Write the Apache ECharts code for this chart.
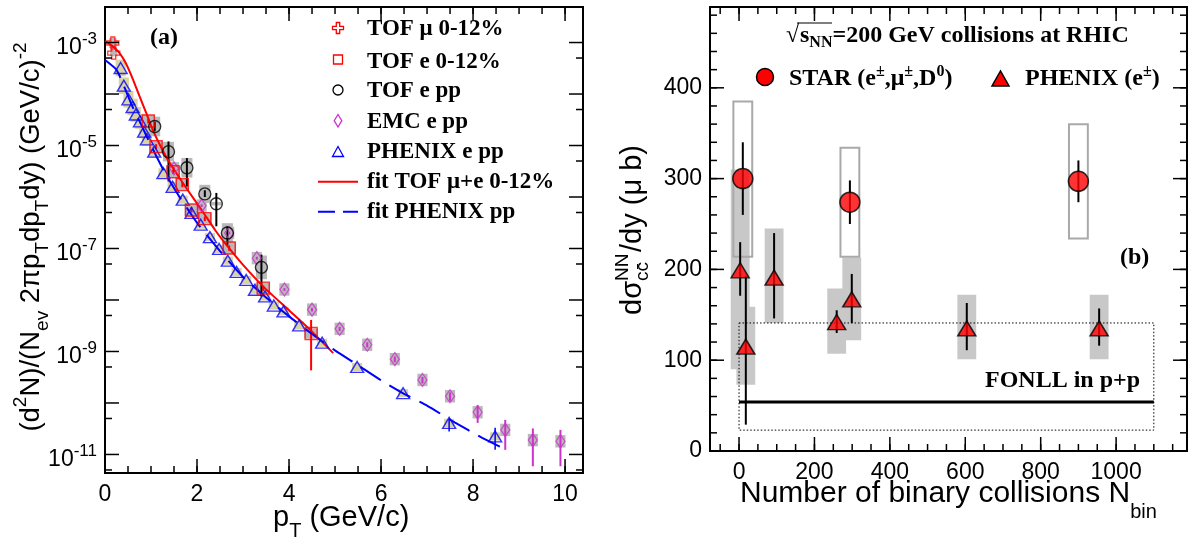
<!DOCTYPE html>
<html>
<head>
<meta charset="utf-8">
<title>Charm yields and cross sections</title>
<script src="https://cdn.jsdelivr.net/npm/echarts@6.0.0/dist/echarts.min.js"></script>
<style>
html,body{margin:0;padding:0;background:#ffffff;}
#chart{width:1198px;height:549px;}
</style>
</head>
<body>
<div id="chart"></div>
<script>
// ===================== Panel (a): yields vs pT (GeV/c) =====================
const tofMuPt  = [0.17, 0.19];
const tofMuY   = [9.8e-4, 6.2e-4];
const tofMuSys = [0.25, 0.15];

const tofEPt    = [0.94, 1.11, 1.48, 1.68, 1.88, 2.17, 2.70, 3.44, 4.48];
const tofEY     = [3.0e-5, 9.5e-6, 3.1e-6, 1.74e-6, 5.6e-7, 3.8e-7, 1.02e-7, 1.7e-8, 2.24e-9];
const tofEErrLo = [2.7e-5, 8.5e-6, 2.8e-6, 1.55e-6, 5.0e-7, 3.4e-7, 9.0e-8, 1.5e-8, 4.3e-10];
const tofEErrHi = [3.3e-5, 1.06e-5, 3.4e-6, 1.95e-6, 6.3e-7, 4.2e-7, 1.15e-7, 1.9e-8, 4.1e-9];
const tofESys   = [0.3, 0.3, 0.3, 0.3, 0.3, 0.3, 0.3, 0.3, 0.25];

const tofPpPt    = [1.08, 1.38, 1.78, 2.17, 2.42, 2.66, 3.40];
const tofPpY     = [2.34e-5, 7.6e-6, 3.7e-6, 1.15e-6, 7.4e-7, 2.0e-7, 4.3e-8];
const tofPpErrLo = [1.9e-5, 2.0e-6, 1.6e-6, 1.0e-6, 2.7e-7, 1.17e-7, 1.17e-8];
const tofPpErrHi = [2.9e-5, 1.2e-5, 5.7e-6, 1.35e-6, 1.2e-6, 2.7e-7, 7.6e-8];
const tofPpSys   = [0.55, 0.55, 0.55, 0.5, 0.08, 0.55, 0.7];

const emcPt    = [1.5, 2.1, 2.7, 3.3, 3.9, 4.5, 5.1, 5.7, 6.3, 6.9, 7.5, 8.1, 8.7, 9.3, 9.9];
const emcY     = [3.6e-6, 6.8e-7, 2.0e-7, 6.5e-8, 1.6e-8, 6.5e-9, 2.75e-9, 1.35e-9, 7.1e-10, 2.8e-10, 1.35e-10, 6.6e-11, 3.0e-11, 1.9e-11, 1.8e-11];
const emcErrLo = [3.4e-6, 6.4e-7, 1.88e-7, 6.1e-8, 1.5e-8, 6.0e-9, 2.5e-9, 1.2e-9, 6.2e-10, 2.4e-10, 1.1e-10, 4.1e-11, 1.23e-11, 5.9e-12, 5.9e-12];
const emcErrHi = [3.8e-6, 7.2e-7, 2.12e-7, 6.9e-8, 1.7e-8, 7.0e-9, 3.0e-9, 1.5e-9, 8.0e-10, 3.2e-10, 1.6e-10, 9.1e-11, 4.7e-11, 3.2e-11, 3.0e-11];
const emcSys   = [0.32, 0.32, 0.32, 0.32, 0.32, 0.32, 0.32, 0.32, 0.32, 0.32, 0.32, 0.32, 0.32, 0.32, 0.32];

const phxPt  = [0.34, 0.41, 0.51, 0.60, 0.67, 0.76, 0.85, 0.91, 1.07, 1.27, 1.47, 1.69, 1.88, 2.08, 2.28, 2.48, 2.67, 2.86, 3.07, 3.26, 3.48, 3.67, 3.88, 4.22, 4.72, 5.48, 6.48, 7.48, 8.48];
const phxY   = [3.2e-4, 1.45e-4, 7.9e-5, 5.6e-5, 4.0e-5, 2.95e-5, 1.86e-5, 1.32e-5, 7.6e-6, 2.9e-6, 1.58e-6, 8.9e-7, 4.9e-7, 2.9e-7, 1.66e-7, 9.8e-8, 5.8e-8, 3.5e-8, 2.45e-8, 1.58e-8, 1.17e-8, 7.8e-9, 6.0e-9, 3.2e-9, 1.48e-9, 5.0e-10, 1.55e-10, 4.1e-11, 2.24e-11];
const phxSys = [0.45, 0.45, 0.45, 0.45, 0.4, 0.4, 0.35, 0.35, 0.3, 0.25, 0.25, 0.2, 0.2, 0.2, 0.2, 0.2, 0.2, 0.2, 0.2, 0.2, 0.2, 0.2, 0.2, 0.2, 0.2, 0.2, 0.2, 0.2, 0.2];
const phxErrPt = [7.48, 8.48];
const phxErrLo = [2.8e-11, 1.23e-11];
const phxErrHi = [4.7e-11, 3.3e-11];

const fitTofPt = [0.0, 0.15, 0.3, 0.45, 0.6, 0.75, 0.9, 1.05, 1.2, 1.35, 1.5, 1.8, 2.1, 2.4, 2.7, 3.0, 3.44, 4.0, 4.46, 4.96];
const fitTofY  = [1.07e-3, 8.7e-4, 6.5e-4, 4.0e-4, 2.0e-4, 9.1e-5, 4.2e-5, 1.9e-5, 1.0e-5, 5.6e-6, 3.4e-6, 1.35e-6, 5.6e-7, 2.24e-7, 1.0e-7, 4.8e-8, 1.82e-8, 6.3e-9, 2.63e-9, 9.3e-10];

const fitPhxPt = [0.0, 0.25, 0.4, 0.6, 0.8, 1.0, 1.3, 1.6, 2.0, 2.5, 3.0, 3.5, 4.0, 4.5, 5.0, 5.5, 6.0, 6.5, 7.0, 7.6, 8.2, 8.7];
const fitPhxY  = [4.57e-4, 2.95e-4, 1.51e-4, 5.6e-5, 2.4e-5, 1.0e-5, 3.0e-6, 1.07e-6, 3.16e-7, 8.9e-8, 2.8e-8, 1.12e-8, 4.8e-9, 2.19e-9, 1.05e-9, 5.4e-10, 2.75e-10, 1.51e-10, 8.9e-11, 4.2e-11, 2.1e-11, 1.26e-11];

const ptTickLabels = [0, 2, 4, 6, 8, 10];
const yieldDecadeLabels = [-11, -9, -7, -5, -3];

// ===================== Panel (b): cross section vs Nbin =====================
const starN     = [10, 294, 900];
const starY     = [300, 274, 297];
const starErrLo = [260, 250, 274];
const starErrHi = [340, 298, 320];
const starSysLo = [214, 214, 234];
const starSysHi = [385, 334, 360];

const phenixN     = [3, 18, 93, 259, 299, 604, 955];
const phenixY     = [199, 115, 191, 142, 167, 135, 135];
const phenixErrLo = [171, 29, 146, 130, 141, 111, 116];
const phenixErrHi = [230, 193, 240, 155, 195, 163, 157];
const phenixSysLo = [90, 73, 141, 107, 122, 101, 101];
const phenixSysHi = [310, 159, 245, 179, 213, 172, 172];

const fonllNRange = [0, 1100];
const fonllY      = 54;
const fonllBand   = [23, 141];

const nbinTickLabels = [0, 200, 400, 600, 800, 1000];
const sigmaTickLabels = [0, 100, 200, 300, 400];

// ===================== building the chart =====================
const SERIF = '"Liberation Serif", "Times New Roman", serif';
const SANS  = '"Liberation Sans", Arial, Helvetica, sans-serif';
const lg = v => Math.log10(v);

const A = {xmin: 0, xmax: 10.39, ymin: -11.36, ymax: -2.31};
const B = {xmin: -77, xmax: 1188, ymin: 0, ymax: 489};

function range(a, b, s) { const r = []; for (let v = a; v <= b + 1e-9; v += s) r.push(+v.toFixed(4)); return r; }

function mkAxis(o) {
  return {
    type: 'value', gridIndex: o.grid, position: o.pos, offset: 0, min: o.min, max: o.max,
    axisLine: {show: false, onZero: false}, splitLine: {show: false}, axisTick: {show: false},
    axisLabel: Object.assign({show: true, customValues: o.labelValues, color: '#000',
               fontSize: 23, fontFamily: SANS, margin: o.margin, formatter: v => String(v)}, o.label || {}),
    axisPointer: {show: false}
  };
}

const xAxes = [
  mkAxis({grid: 0, pos: 'bottom', min: A.xmin, max: A.xmax, labelValues: ptTickLabels, margin: 10}),
  mkAxis({grid: 1, pos: 'bottom', min: B.xmin, max: B.xmax, labelValues: nbinTickLabels, margin: 10})
];
const yAxes = [
  mkAxis({grid: 0, pos: 'left', min: A.ymin, max: A.ymax, labelValues: yieldDecadeLabels, margin: 8,
          label: {formatter: v => '{b|10}{s|' + Math.round(v) + '}',
                  rich: {b: {fontSize: 23, fontFamily: SANS, color: '#000', padding: [10, 0, 0, 0]},
                         s: {fontSize: 17, fontFamily: SANS, color: '#000', padding: [0, 0, 6, 0]}}}}),
  mkAxis({grid: 1, pos: 'left', min: B.ymin, max: B.ymax, labelValues: sigmaTickLabels, margin: 8})
];

// tick marks on all four sides of a frame, drawn through the axis scales
// item: [side (0 bottom,1 top,2 left,3 right), value, length px]
function tickItems(xMajor, xMinor, yMajor, yMinor, majLen, minLen) {
  const out = [];
  [0, 1].forEach(s => { xMajor.forEach(v => out.push([s, v, majLen])); xMinor.forEach(v => out.push([s, v, minLen])); });
  [2, 3].forEach(s => { yMajor.forEach(v => out.push([s, v, majLen])); yMinor.forEach(v => out.push([s, v, minLen])); });
  return out;
}
function tickSeries(axis, dom, items) {
  return {
    type: 'custom', xAxisIndex: axis, yAxisIndex: axis, z: 10, silent: true, clip: false,
    data: items,
    renderItem: (params, api) => {
      const side = api.value(0), v = api.value(1), len = api.value(2);
      let p, q;
      if (side === 0) { p = api.coord([v, dom.ymin]); q = [p[0], p[1] - len]; }
      else if (side === 1) { p = api.coord([v, dom.ymax]); q = [p[0], p[1] + len]; }
      else if (side === 2) { p = api.coord([dom.xmin, v]); q = [p[0] + len, p[1]]; }
      else { p = api.coord([dom.xmax, v]); q = [p[0] - len, p[1]]; }
      return {type: 'line', shape: {x1: p[0], y1: p[1], x2: q[0], y2: q[1]},
              style: {stroke: '#000', lineWidth: 1.5}};
    }
  };
}
const ticksA = tickItems(ptTickLabels, range(0.5, 10, 0.5), range(-11, -3, 1),
                         range(-11, -3, 1).map(v => +(v - 0.301).toFixed(3)), 14, 7);
const ticksB = tickItems(nbinTickLabels, range(-50, 1150, 50), sigmaTickLabels, range(20, 480, 20), 14, 7);

function boxSeries(axis, data, halfW, style, z) {
  return {
    type: 'custom', xAxisIndex: axis, yAxisIndex: axis, z: z, silent: true, data: data,
    renderItem: (params, api) => {
      const x = api.value(0), lo = api.value(1), hi = api.value(2);
      const a = api.coord([x - halfW, hi]);
      const b = api.coord([x + halfW, lo]);
      return {type: 'rect', shape: {x: a[0], y: a[1], width: b[0] - a[0], height: b[1] - a[1]},
              style: Object.assign({}, style)};
    }
  };
}
function errSeries(axis, data, color, width, z) {
  return {
    type: 'custom', xAxisIndex: axis, yAxisIndex: axis, z: z, silent: true, data: data,
    renderItem: (params, api) => {
      const x = api.value(0);
      const a = api.coord([x, api.value(1)]);
      const b = api.coord([x, api.value(2)]);
      return {type: 'line', shape: {x1: a[0], y1: a[1], x2: b[0], y2: b[1]},
              style: {stroke: color, lineWidth: width}};
    }
  };
}
const logBoxes = (xs, ys, rel) => xs.map((x, i) => [x, lg(ys[i] / (1 + rel[i])), lg(ys[i] * (1 + rel[i]))]);
const logErrs = (xs, lo, hi) => xs.map((x, i) => [x, lg(lo[i]), lg(hi[i])]);
const logPts = (xs, ys) => xs.map((x, i) => [x, lg(ys[i])]);
const linBoxes = (xs, lo, hi) => xs.map((x, i) => [x, lo[i], hi[i]]);
const linPts = (xs, ys) => xs.map((x, i) => [x, ys[i]]);

const GREY = '#b9b9b9';
const KHAKI = '#d9d3a3';
const OPEN = 'rgba(0,0,0,0)';
const crossPath = 'path://M-1,-3L1,-3L1,-1L3,-1L3,1L1,1L1,3L-1,3L-1,1L-3,1L-3,-1L-1,-1Z';

const series = [
  tickSeries(0, A, ticksA),
  tickSeries(1, B, ticksB),
  // ---- panel (a) ----
  boxSeries(0, logBoxes(phxPt, phxY, phxSys), 0.11, {fill: KHAKI}, 1),
  boxSeries(0, logBoxes(tofEPt, tofEY, tofESys), 0.15, {fill: GREY}, 1),
  boxSeries(0, logBoxes(tofPpPt, tofPpY, tofPpSys), 0.12, {fill: GREY}, 1),
  boxSeries(0, logBoxes(emcPt, emcY, emcSys), 0.11, {fill: GREY}, 1),
  boxSeries(0, logBoxes(tofMuPt, tofMuY, tofMuSys), 0.08, {fill: GREY}, 1),
  errSeries(0, logErrs(tofPpPt, tofPpErrLo, tofPpErrHi), '#000000', 2, 2),
  errSeries(0, logErrs(tofEPt, tofEErrLo, tofEErrHi), '#ff0000', 2, 2),
  errSeries(0, logErrs(emcPt, emcErrLo, emcErrHi), '#cc33cc', 2, 2),
  errSeries(0, logErrs(phxErrPt, phxErrLo, phxErrHi), '#0000ff', 1.5, 2),
  {type: 'line', xAxisIndex: 0, yAxisIndex: 0, z: 3, data: logPts(fitTofPt, fitTofY), showSymbol: false, symbol: 'none',
   smooth: 0.2, lineStyle: {color: '#ff0000', width: 2}, silent: true},
  {type: 'line', xAxisIndex: 0, yAxisIndex: 0, z: 3, data: logPts(fitPhxPt, fitPhxY), showSymbol: false, symbol: 'none',
   smooth: 0.2, lineStyle: {color: '#0000ff', width: 2, type: [24, 10]}, silent: true},
  {type: 'scatter', xAxisIndex: 0, yAxisIndex: 0, z: 4, data: logPts(phxPt, phxY), symbol: 'triangle', symbolSize: [13, 11],
   itemStyle: {color: OPEN, borderColor: '#0000ff', borderWidth: 1.4}, silent: true},
  {type: 'scatter', xAxisIndex: 0, yAxisIndex: 0, z: 4, data: logPts(emcPt, emcY), symbol: 'diamond', symbolSize: [9, 13],
   itemStyle: {color: OPEN, borderColor: '#cc33cc', borderWidth: 1.3}, silent: true},
  {type: 'scatter', xAxisIndex: 0, yAxisIndex: 0, z: 4, data: logPts(tofEPt, tofEY), symbol: 'rect', symbolSize: 12,
   itemStyle: {color: OPEN, borderColor: '#ff0000', borderWidth: 1.4}, silent: true},
  {type: 'scatter', xAxisIndex: 0, yAxisIndex: 0, z: 4, data: logPts(tofPpPt, tofPpY), symbol: 'circle', symbolSize: 12,
   itemStyle: {color: OPEN, borderColor: '#000000', borderWidth: 1.4}, silent: true},
  {type: 'scatter', xAxisIndex: 0, yAxisIndex: 0, z: 4, data: logPts(tofMuPt, tofMuY), symbol: crossPath, symbolSize: 12,
   itemStyle: {color: OPEN, borderColor: '#ff0000', borderWidth: 1.3}, silent: true},

  // ---- panel (b) ----
  boxSeries(1, linBoxes(phenixN, phenixSysLo, phenixSysHi), 25, {fill: '#c8c8c8'}, 1),
  boxSeries(1, linBoxes(starN, starSysLo, starSysHi), 25, {fill: 'none', stroke: '#a9a9a9', lineWidth: 2}, 1),
  {type: 'custom', xAxisIndex: 1, yAxisIndex: 1, z: 2, silent: true,
   data: [[fonllNRange[0], fonllNRange[1], fonllBand[0], fonllBand[1]]],
   renderItem: (params, api) => {
     const a = api.coord([api.value(0), api.value(3)]);
     const b = api.coord([api.value(1), api.value(2)]);
     return {type: 'rect', shape: {x: a[0], y: a[1], width: b[0] - a[0], height: b[1] - a[1]},
             style: {fill: 'none', stroke: '#000', lineWidth: 1, lineDash: [1.5, 2]}};
   }},
  {type: 'line', xAxisIndex: 1, yAxisIndex: 1, z: 3, silent: true, symbol: 'none', showSymbol: false,
   data: [[fonllNRange[0], fonllY], [fonllNRange[1], fonllY]], lineStyle: {color: '#000', width: 3}},
  errSeries(1, linBoxes(starN, starErrLo, starErrHi), '#000', 2, 3),
  errSeries(1, linBoxes(phenixN, phenixErrLo, phenixErrHi), '#000', 2, 3),
  {type: 'scatter', xAxisIndex: 1, yAxisIndex: 1, z: 4, silent: true, data: linPts(starN, starY), symbol: 'circle', symbolSize: 20,
   itemStyle: {color: '#ff0000', borderColor: '#000', borderWidth: 1.5}},
  {type: 'scatter', xAxisIndex: 1, yAxisIndex: 1, z: 4, silent: true, data: linPts(phenixN, phenixY), symbol: 'triangle', symbolSize: [18, 15],
   itemStyle: {color: '#ff0000', borderColor: '#000', borderWidth: 1.5}}
];

// ---- text & legends ----
const legendA = [
  {label: 'TOF μ 0-12%', y: 28},
  {label: 'TOF e 0-12%', y: 61},
  {label: 'TOF e pp', y: 90},
  {label: 'EMC e pp', y: 121},
  {label: 'PHENIX e pp', y: 151},
  {label: 'fit TOF μ+e 0-12%', y: 181},
  {label: 'fit PHENIX pp', y: 211}
];
const LX = 338;
const graphic = [];
legendA.forEach(it => graphic.push({type: 'text', x: 367, y: it.y + 1, silent: true,
  style: {text: it.label, font: 'bold 23px ' + SERIF, fill: '#000', verticalAlign: 'middle'}}));
graphic.push(
  {type: 'polygon', silent: true, shape: {points: [[LX-1.7,22.5],[LX+1.7,22.5],[LX+1.7,26.3],[LX+5.5,26.3],[LX+5.5,29.7],[LX+1.7,29.7],[LX+1.7,33.5],[LX-1.7,33.5],[LX-1.7,29.7],[LX-5.5,29.7],[LX-5.5,26.3],[LX-1.7,26.3]]},
   style: {fill: 'none', stroke: '#ff0000', lineWidth: 1.3}},
  {type: 'rect', silent: true, shape: {x: LX - 4.5, y: 55, width: 9, height: 9}, style: {fill: 'none', stroke: '#ff0000', lineWidth: 1.3}},
  {type: 'circle', silent: true, shape: {cx: LX, cy: 90, r: 5}, style: {fill: 'none', stroke: '#000', lineWidth: 1.3}},
  {type: 'polygon', silent: true, shape: {points: [[LX, 114.5], [LX + 3.8, 120.7], [LX, 127], [LX - 3.8, 120.7]]}, style: {fill: 'none', stroke: '#cc33cc', lineWidth: 1.3}},
  {type: 'polygon', silent: true, shape: {points: [[LX - 5.5, 156.5], [LX + 5.5, 156.5], [LX, 146.5]]}, style: {fill: 'none', stroke: '#0000ff', lineWidth: 1.3}},
  {type: 'line', silent: true, shape: {x1: 318, y1: 181.7, x2: 358, y2: 181.7}, style: {stroke: '#ff0000', lineWidth: 2}},
  {type: 'line', silent: true, shape: {x1: 318, y1: 211.7, x2: 358, y2: 211.7}, style: {stroke: '#0000ff', lineWidth: 2, lineDash: [17, 8]}},
  {type: 'text', x: 150, y: 38, silent: true, style: {text: '(a)', font: 'bold 24px ' + SERIF, fill: '#000', verticalAlign: 'middle'}},
  // axis titles panel (a)
  {type: 'text', x: 31, y: 237, rotation: Math.PI / 2, silent: true,
   style: {text: '(d{p|2}N)/(N{b|ev} 2πp{b|T}dp{b|T}dy) (GeV/c){p|-2}', font: '27.5px ' + SANS, fill: '#000',
           align: 'center', verticalAlign: 'middle',
           rich: {p: {fontSize: 19, fontFamily: SANS, padding: [0, 0, 20, 0]},
                  b: {fontSize: 19, fontFamily: SANS, padding: [24, 0, 0, 0]}}}},
  {type: 'text', x: 273, y: 518, silent: true,
   style: {text: 'p{b|T} (GeV/c)', font: '29px ' + SANS, fill: '#000', verticalAlign: 'middle',
           rich: {b: {fontSize: 20, fontFamily: SANS, padding: [26, 0, 0, 0]}}}},
  // panel (b) texts
  {type: 'text', x: 786, y: 36, silent: true, style: {text: '√', font: 'bold 24px ' + SERIF, fill: '#000', verticalAlign: 'middle'}},
  {type: 'line', silent: true, shape: {x1: 797, y1: 23, x2: 832, y2: 23}, style: {stroke: '#000', lineWidth: 1.2}},
  {type: 'text', x: 800, y: 36, silent: true,
   style: {text: 's{b|NN}=200 GeV collisions at RHIC', font: 'bold 24px ' + SERIF, fill: '#000', verticalAlign: 'middle',
           rich: {b: {fontSize: 16, fontFamily: SERIF, fontWeight: 'bold', padding: [14, 0, 0, 0]}}}},
  {type: 'circle', silent: true, shape: {cx: 765, cy: 77, r: 8.5}, style: {fill: '#ff0000', stroke: '#000', lineWidth: 1.5}},
  {type: 'text', x: 789, y: 79, silent: true,
   style: {text: 'STAR (e{p|±},μ{p|±},D{p|0})', font: 'bold 24px ' + SERIF, fill: '#000', verticalAlign: 'middle',
           rich: {p: {fontSize: 16, fontFamily: SERIF, fontWeight: 'bold', padding: [0, 0, 14, 0]}}}},
  {type: 'polygon', silent: true, shape: {points: [[992, 86], [1009, 86], [1000.5, 71]]}, style: {fill: '#ff0000', stroke: '#000', lineWidth: 1.5}},
  {type: 'text', x: 1025, y: 79, silent: true,
   style: {text: 'PHENIX (e{p|±})', font: 'bold 24px ' + SERIF, fill: '#000', verticalAlign: 'middle',
           rich: {p: {fontSize: 16, fontFamily: SERIF, fontWeight: 'bold', padding: [0, 0, 14, 0]}}}},
  {type: 'text', x: 1120, y: 258, silent: true, style: {text: '(b)', font: 'bold 24px ' + SERIF, fill: '#000', verticalAlign: 'middle'}},
  {type: 'text', x: 985, y: 381, silent: true, style: {text: 'FONLL in p+p', font: 'bold 24px ' + SERIF, fill: '#000', verticalAlign: 'middle'}},
  // axis titles panel (b)
  {type: 'text', x: 740, y: 494, silent: true,
   style: {text: 'Number of binary collisions N{b|bin}', font: '30px ' + SANS, fill: '#000', verticalAlign: 'middle',
           rich: {b: {fontSize: 20, fontFamily: SANS, padding: [36, 0, 0, 0]}}}},
  {type: 'group', x: 633, y: 231, rotation: Math.PI / 2, silent: true, children: [
    {type: 'text', x: -84, y: 0, style: {text: 'dσ', font: '29px ' + SANS, fill: '#000', verticalAlign: 'middle'}},
    {type: 'text', x: -50, y: -10, style: {text: 'NN', font: '19px ' + SANS, fill: '#000', verticalAlign: 'middle'}},
    {type: 'text', x: -50, y: 10, style: {text: 'cc\u0304', font: '19px ' + SANS, fill: '#000', verticalAlign: 'middle'}},
    {type: 'text', x: -21, y: 0, style: {text: '/dy (μ b)', font: '29px ' + SANS, fill: '#000', verticalAlign: 'middle'}}
  ]}
);

const option = {
  animation: false,
  backgroundColor: '#ffffff',
  grid: [
    {left: 105, top: 7, width: 478, height: 466, show: true, borderColor: '#000', borderWidth: 2, backgroundColor: 'transparent', outerBoundsMode: 'none'},
    {left: 710, top: 7, width: 477, height: 444, show: true, borderColor: '#000', borderWidth: 2, backgroundColor: 'transparent', outerBoundsMode: 'none'}
  ],
  xAxis: xAxes,
  yAxis: yAxes,
  series: series,
  graphic: graphic
};

const chart = echarts.init(document.getElementById('chart'), null, {renderer: 'canvas'});
chart.setOption(option);
</script>
</body>
</html>
